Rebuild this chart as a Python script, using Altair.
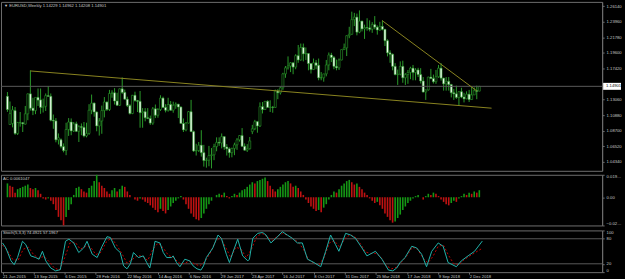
import altair as alt
import pandas as pd

# ---------------- data (EURUSD weekly) ----------------
ohlc_2015 = [
    (1.1350, 1.1410, 1.1132, 1.1165), (1.0955, 1.1278, 1.0955, 1.1108), (1.0970, 1.1215, 1.0915, 1.1160),
    (1.1150, 1.1200, 1.0810, 1.0830), (1.0830, 1.0990, 1.0808, 1.0985), (1.0980, 1.1130, 1.0925, 1.0980),
    (1.0980, 1.0990, 1.0850, 1.0965), (1.0960, 1.1215, 1.0955, 1.1105), (1.1105, 1.1390, 1.1015, 1.1385),
    (1.1385, 1.1714, 1.1150, 1.1183), (1.1185, 1.1330, 1.1087, 1.1150), (1.1150, 1.1330, 1.1100, 1.1335),
    (1.1335, 1.1460, 1.1215, 1.1297), (1.1300, 1.1460, 1.1105, 1.1195), (1.1195, 1.1318, 1.1123, 1.1210),
    (1.1210, 1.1390, 1.1145, 1.1360), (1.1360, 1.1495, 1.1345, 1.1350), (1.1350, 1.1390, 1.1000, 1.1015),
    (1.1015, 1.1095, 1.0895, 1.1005), (1.1005, 1.1045, 1.0705, 1.0740), (1.0740, 1.0830, 1.0675, 1.0770),
    (1.0740, 1.0760, 1.0620, 1.0645), (1.0645, 1.0690, 1.0565, 1.0590), (1.0590, 1.0980, 1.0525, 1.0885),
    (1.0885, 1.1045, 1.0795, 1.0990), (1.0990, 1.1040, 1.0805, 1.0865), (1.0865, 1.0990, 1.0850, 1.0965),
    (1.0965, 1.0995, 1.0850, 1.0860),
]
ohlc_2016 = [
    (1.0860, 1.0945, 1.0710, 1.0925), (1.0925, 1.0970, 1.0805, 1.0915), (1.0915, 1.0990, 1.0775, 1.0795),
    (1.0795, 1.0980, 1.0775, 1.0830), (1.0830, 1.1240, 1.0810, 1.1155), (1.1155, 1.1375, 1.1100, 1.1255),
    (1.1255, 1.1265, 1.1065, 1.1130), (1.1130, 1.1140, 1.0860, 1.0935), (1.0935, 1.1045, 1.0800, 1.1005),
    (1.1005, 1.1220, 1.0825, 1.1150), (1.1150, 1.1340, 1.1055, 1.1270), (1.1270, 1.1280, 1.1145, 1.1165),
    (1.1165, 1.1440, 1.1145, 1.1390), (1.1390, 1.1435, 1.1330, 1.1400), (1.1400, 1.1465, 1.1235, 1.1285),
    (1.1285, 1.1400, 1.1215, 1.1225), (1.1225, 1.1460, 1.1215, 1.1455), (1.1455, 1.1615, 1.1385, 1.1405),
    (1.1405, 1.1445, 1.1305, 1.1310), (1.1310, 1.1345, 1.1200, 1.1220), (1.1220, 1.1240, 1.1095, 1.1110),
    (1.1110, 1.1370, 1.1100, 1.1365), (1.1365, 1.1415, 1.1275, 1.1290), (1.1290, 1.1300, 1.1130, 1.1280),
    (1.1280, 1.1425, 1.0910, 1.1120), (1.1120, 1.1185, 1.0910, 1.1135), (1.1135, 1.1185, 1.1000, 1.1050),
    (1.1050, 1.1185, 1.1030, 1.1040), (1.1040, 1.1080, 1.0950, 1.0975), (1.0975, 1.1200, 1.0950, 1.1175),
    (1.1175, 1.1235, 1.1045, 1.1085), (1.1085, 1.1185, 1.1050, 1.1165), (1.1165, 1.1365, 1.1145, 1.1325),
    (1.1325, 1.1345, 1.1185, 1.1195), (1.1195, 1.1240, 1.1125, 1.1155), (1.1155, 1.1330, 1.1135, 1.1235),
    (1.1235, 1.1285, 1.1150, 1.1155), (1.1155, 1.1275, 1.1120, 1.1225), (1.1225, 1.1265, 1.1175, 1.1240),
    (1.1240, 1.1245, 1.1045, 1.1200), (1.1200, 1.1210, 1.0970, 1.0970), (1.0970, 1.1040, 1.0850, 1.0880),
    (1.0880, 1.0990, 1.0860, 1.0975), (1.0975, 1.1145, 1.0970, 1.1135), (1.1135, 1.1300, 1.0850, 1.0855),
    (1.0855, 1.0870, 1.0570, 1.0585), (1.0585, 1.0685, 1.0520, 1.0590), (1.0590, 1.0710, 1.0570, 1.0665),
    (1.0665, 1.0875, 1.0505, 1.0560), (1.0560, 1.0670, 1.0365, 1.0450), (1.0450, 1.0490, 1.0350, 1.0455),
    (1.0455, 1.0655, 1.0370, 1.0520),
]
ohlc_2017 = [
    (1.0520, 1.0625, 1.0340, 1.0530), (1.0530, 1.0685, 1.0455, 1.0645), (1.0645, 1.0775, 1.0580, 1.0705),
    (1.0705, 1.0775, 1.0655, 1.0695), (1.0695, 1.0830, 1.0620, 1.0785), (1.0785, 1.0790, 1.0600, 1.0640),
    (1.0640, 1.0680, 1.0520, 1.0615), (1.0615, 1.0635, 1.0490, 1.0560), (1.0560, 1.0630, 1.0495, 1.0620),
    (1.0620, 1.0700, 1.0525, 1.0670), (1.0670, 1.0765, 1.0600, 1.0740), (1.0740, 1.0805, 1.0715, 1.0800),
    (1.0800, 1.0905, 1.0640, 1.0650), (1.0650, 1.0690, 1.0590, 1.0595), (1.0595, 1.0680, 1.0570, 1.0615),
    (1.0615, 1.0780, 1.0605, 1.0725), (1.0855, 1.0950, 1.0820, 1.0895), (1.0895, 1.1020, 1.0875, 1.0995),
    (1.0995, 1.1000, 1.0840, 1.0935), (1.0935, 1.1265, 1.0920, 1.1205), (1.1205, 1.1270, 1.1110, 1.1165),
    (1.1165, 1.1285, 1.1160, 1.1280), (1.1280, 1.1295, 1.1195, 1.1195), (1.1195, 1.1295, 1.1130, 1.1200),
    (1.1200, 1.1215, 1.1120, 1.1195), (1.1195, 1.1445, 1.1190, 1.1425), (1.1425, 1.1450, 1.1310, 1.1400),
    (1.1400, 1.1490, 1.1375, 1.1470), (1.1470, 1.1680, 1.1440, 1.1665), (1.1665, 1.1775, 1.1610, 1.1750),
    (1.1750, 1.1910, 1.1725, 1.1775), (1.1775, 1.1830, 1.1690, 1.1820), (1.1820, 1.1825, 1.1660, 1.1760),
    (1.1760, 1.1940, 1.1730, 1.1920), (1.1920, 1.2070, 1.1820, 1.1860), (1.1860, 1.2090, 1.1850, 1.2035),
    (1.2035, 1.2090, 1.1840, 1.1945), (1.1945, 1.2035, 1.1860, 1.1950), (1.1950, 1.1955, 1.1715, 1.1810),
    (1.1810, 1.1815, 1.1670, 1.1725), (1.1725, 1.1880, 1.1720, 1.1820), (1.1820, 1.1860, 1.1730, 1.1785),
    (1.1785, 1.1880, 1.1575, 1.1610), (1.1610, 1.1690, 1.1575, 1.1610), (1.1610, 1.1665, 1.1555, 1.1665),
    (1.1665, 1.1860, 1.1630, 1.1790), (1.1790, 1.1965, 1.1715, 1.1930), (1.1930, 1.1960, 1.1830, 1.1895),
    (1.1895, 1.1915, 1.1730, 1.1770), (1.1770, 1.1865, 1.1715, 1.1750), (1.1750, 1.1880, 1.1720, 1.1860),
    (1.1860, 1.2005, 1.1855, 1.2005), (1.2005, 1.2090, 1.2000, 1.2030),
]
ohlc_2018 = [
    (1.2030, 1.2205, 1.1915, 1.2200), (1.2200, 1.2325, 1.2165, 1.2220), (1.2220, 1.2537, 1.2215, 1.2425),
    (1.2425, 1.2520, 1.2335, 1.2460), (1.2460, 1.2510, 1.2205, 1.2250), (1.2250, 1.2555, 1.2235, 1.2405),
    (1.2405, 1.2410, 1.2260, 1.2295), (1.2295, 1.2355, 1.2155, 1.2315), (1.2315, 1.2445, 1.2270, 1.2310),
    (1.2310, 1.2415, 1.2260, 1.2290), (1.2290, 1.2390, 1.2240, 1.2355), (1.2355, 1.2475, 1.2290, 1.2320),
    (1.2320, 1.2345, 1.2215, 1.2280), (1.2280, 1.2395, 1.2270, 1.2330), (1.2330, 1.2415, 1.2275, 1.2290),
    (1.2290, 1.2290, 1.2055, 1.2130), (1.2130, 1.2150, 1.1910, 1.1960), (1.1960, 1.1995, 1.1820, 1.1940),
    (1.1940, 1.1950, 1.1715, 1.1770), (1.1770, 1.1815, 1.1645, 1.1655), (1.1655, 1.1725, 1.1510, 1.1660),
    (1.1660, 1.1840, 1.1645, 1.1770), (1.1770, 1.1850, 1.1540, 1.1610), (1.1610, 1.1675, 1.1510, 1.1655),
    (1.1655, 1.1720, 1.1525, 1.1685), (1.1685, 1.1765, 1.1590, 1.1745), (1.1745, 1.1790, 1.1575, 1.1685),
    (1.1685, 1.1745, 1.1575, 1.1720), (1.1720, 1.1750, 1.1620, 1.1655), (1.1655, 1.1745, 1.1530, 1.1565),
    (1.1565, 1.1620, 1.1405, 1.1410), (1.1410, 1.1445, 1.1300, 1.1440), (1.1440, 1.1625, 1.1430, 1.1620),
    (1.1620, 1.1735, 1.1590, 1.1600), (1.1600, 1.1655, 1.1530, 1.1555), (1.1555, 1.1720, 1.1525, 1.1625),
    (1.1625, 1.1790, 1.1610, 1.1745), (1.1745, 1.1815, 1.1570, 1.1605), (1.1605, 1.1610, 1.1430, 1.1525),
    (1.1525, 1.1620, 1.1430, 1.1560), (1.1560, 1.1620, 1.1430, 1.1515), (1.1515, 1.1525, 1.1335, 1.1400),
    (1.1400, 1.1455, 1.1300, 1.1385), (1.1385, 1.1500, 1.1315, 1.1335), (1.1335, 1.1420, 1.1215, 1.1415),
    (1.1415, 1.1470, 1.1325, 1.1340), (1.1340, 1.1400, 1.1265, 1.1315), (1.1315, 1.1420, 1.1310, 1.1380),
    (1.1380, 1.1440, 1.1270, 1.1305), (1.1305, 1.1485, 1.1300, 1.1370), (1.1370, 1.1475, 1.1370, 1.1430),
    (1.1430, 1.1500, 1.1310, 1.1420),
]
ohlc_2019 = [(1.14229, 1.14962, 1.14208, 1.14901)]

date_labels = ["21 Jun 2015", "13 Sep 2015", "6 Dec 2015", "28 Feb 2016", "22 May 2016",
               "14 Aug 2016", "6 Nov 2016", "29 Jan 2017", "23 Apr 2017", "16 Jul 2017",
               "8 Oct 2017", "31 Dec 2017", "25 Mar 2018", "17 Jun 2018", "9 Sep 2018", "2 Dec 2018"]
date_label_bars = [0, 12, 24, 36, 48, 60, 72, 84, 96, 108, 120, 132, 144, 156, 168, 180]

price_ticks = [1.26140, 1.23960, 1.21780, 1.19600, 1.17420,
               1.13060, 1.10880, 1.08700, 1.06520, 1.04340]
last_price = 1.14901

# Accelerator oscillator, in units of 0.001, one per bar
ac_values = [
    12, 10, 9, 4, 7, 8, 9, 10, 11, 8,
    7, 8, 6, 3, -1, -2, -1, -3, -6, -11,
    -17, -20, -24.4, -17, -11, -6, 2, 8, 9, 7,
    5, 4, 8, 10, 14, 19.4, 13, 10, 8, 5,
    3, 6, 8, 5, 7, 10, 9, 5, 2, 0,
    -2, -3, -1, -2, -4, -5, -7, -9, -11, -13,
    -10, -12, -14, -11, -8, -5, -3, -1, 1, -2,
    -6, -10, -14, -17, -19, -20, -18, -14, -10, -6,
    -3, 0, 2, 3, 2, 4, 1, -1, 1, 3,
    2, 4, 6, 7, 9, 11, 13, 12, 14, 15,
    16, 17, 14, 10, 7, 5, 7, 9, 11, 13,
    14, 12, 9, 10, 8, 5, 2, -2, -5, -8,
    -10, -12, -11, -13, -9, -6, -2, 2, 5, 4,
    7, 10, 12, 14, 15, 13, 11, 12, 9, 7,
    4, 2, -1, -3, -5, -4, -7, -10, -14, -17,
    -20, -22, -21, -18, -15, -11, -8, -5, -3, -1,
    1, 2, 0, -2, 1, 3, 2, 4, 3, 1,
    -2, -4, -6, -7, -5, -3, -4, -1, 1, 3,
    2, 4, 3, 5, 4, 6.1,
]

# Stochastic(5,3,3) vertices: bar position, value
stoch_main_bar = [0, 1.3, 3.3, 4.5, 5.8, 7.7, 9, 10.9, 12.8, 14.1, 15.4, 16.7, 18.6, 20.5, 22.3, 23.3,
                  24.3, 25.6, 27.5, 29.4, 31.3, 32.6, 34.6, 36.5, 38.4, 40.3, 41.6, 43.5, 45.4, 46.7,
                  48, 49.3, 50.5, 52.4, 54.3, 55.6, 56.8, 57.8, 58.8, 60.7, 62, 63.3, 65.2, 65.8,
                  67.1, 68.4, 70.3, 72.2, 73.5, 75, 76.5, 77.5, 78.6, 81.1, 83.1, 84.4, 86.3, 87.5,
                  88.8, 90.7, 92.6, 94.6, 95.2, 96.5, 98.4, 100.3, 101.6, 103.5, 105.4, 107.9, 109.8,
                  111.8, 113.7, 115.6, 117.6, 120.1, 122.7, 124.6, 126.5, 128.4, 129.7, 132.3, 134.2,
                  136.1, 138.6, 140.5, 143.8, 146.3, 148.8, 150.5, 152, 153.3, 155.2, 157.8, 159.7,
                  161.6, 163.5, 165.5, 168, 169.9, 171.8, 175, 176.9, 179.5, 182, 185]
stoch_main_val = [70, 58, 27, 18, 35, 74, 66, 39, 35, 31, 50, 27, 10, 3, 6, 40,
                  74, 79, 70, 47, 58, 74, 43, 35, 62, 85, 83, 58, 47, 15,
                  8, 20, 47, 35, 39, 23, 10, 40, 74, 70, 47, 35, 35, 39,
                  23, 13, 31, 27, 15, 8, 5, 15, 35, 58, 89, 81, 43, 23,
                  47, 79, 39, 27, 31, 81, 93, 95, 89, 70, 81, 97, 89,
                  81, 70, 70, 31, 23, 13, 50, 89, 66, 50, 93, 89,
                  81, 58, 39, 50, 31, 5, 3, 10, 23, 35, 62, 58,
                  43, 13, 50, 70, 62, 23, 13, 27, 39, 50, 74.49]
stoch_sig_bar = [0, 2, 4, 6, 8, 10, 12, 14, 16, 18, 20, 22, 24, 26, 28, 30, 32, 34, 36, 38, 40, 42, 44,
                 46, 48, 50, 52, 54, 56, 58, 60, 62, 64, 66, 68, 70, 72, 74, 76, 78, 80, 82, 84, 86,
                 88, 90, 92, 94, 96, 98, 100, 102, 104, 106, 108, 110, 112, 114, 116, 118, 120, 122,
                 124, 126, 128, 130, 132, 134, 136, 138, 140, 142, 144, 146, 148, 150, 152, 154, 156,
                 158, 160, 162, 164, 166, 168, 170, 172, 174, 176, 178, 180, 182, 185]
stoch_sig_val = [65, 50, 30, 28, 55, 60, 42, 33, 38, 25, 10, 5, 35, 70, 72, 55, 62, 60, 42, 48, 72, 82, 65,
                 45, 22, 30, 40, 38, 28, 55, 70, 58, 40, 35, 22, 20, 27, 20, 15, 25, 45, 72, 84, 60,
                 35, 60, 55, 35, 55, 85, 93, 85, 76, 86, 93, 88, 80, 72, 55, 30, 22, 17,
                 35, 70, 75, 60, 80, 90, 84, 68, 48, 45, 45, 35, 15, 8, 12, 25, 40,
                 60, 55, 35, 22, 38, 62, 65, 40, 20, 18, 30, 38, 46, 57.2]

# hand-drawn trend lines: bar position and price of both ends
trend_long_bar = [9, 189.8]
trend_long_price = [1.1706, 1.1184]
trend_down_bar = [146.9, 184]
trend_down_price = [1.2412, 1.1427]

# ---------------- styling ----------------
BG = "#000000"
FG = "#c8c8c8"
GRID = "#6e6e6e"
WICK = "#2a9a2a"
AC_UP = "#159815"
AC_DN = "#c01212"
STOCH_MAIN = "#20b2aa"
STOCH_SIG = "#c00000"
TREND = "#8a8420"
FONT = "Liberation Sans"
FS = 4.2

W = 605
xs = alt.Scale(domain=[-0.575, 231.2], nice=False, zero=False)

rows = ohlc_2015 + ohlc_2016 + ohlc_2017 + ohlc_2018 + ohlc_2019
df = pd.DataFrame(rows, columns=["o", "h", "l", "c"])
df["i"] = list(range(len(df)))
df["fill"] = ["#f4fff4" if c < o else "#000000" for o, c in zip(df["o"], df["c"])]

# ---------------- price panel ----------------
ys = alt.Scale(domain=[1.0306, 1.26742], nice=False, zero=False)
price_axis = alt.Axis(orient="right", values=price_ticks, format=".5f", grid=False,
                      tickSize=2, tickColor=GRID, domainColor=GRID, labelPadding=2, title=None)
X_MAIN = alt.X("i:Q", scale=xs, axis=None, title=None)

wick = alt.Chart(df).mark_rule(color=WICK, strokeWidth=1).encode(
    x=X_MAIN, y=alt.Y("l:Q", scale=ys, axis=price_axis), y2="h:Q")
body = alt.Chart(df).mark_bar(width=2, stroke=WICK, strokeWidth=0.6).encode(
    x=X_MAIN, y=alt.Y("o:Q", scale=ys, axis=price_axis), y2="c:Q",
    fill=alt.Fill("fill:N", scale=None))

t1 = pd.DataFrame({"i": trend_long_bar, "p": trend_long_price})
t2 = pd.DataFrame({"i": trend_down_bar, "p": trend_down_price})
trend1 = alt.Chart(t1).mark_line(color=TREND, strokeWidth=1).encode(
    x=X_MAIN, y=alt.Y("p:Q", scale=ys, axis=price_axis))
trend2 = alt.Chart(t2).mark_line(color=TREND, strokeWidth=1).encode(
    x=X_MAIN, y=alt.Y("p:Q", scale=ys, axis=price_axis))

price_df = pd.DataFrame({"p": [last_price], "t": ["%.5f" % last_price]})
price_line = alt.Chart(price_df).mark_rule(color="#5a5a5a", strokeWidth=1).encode(
    y=alt.Y("p:Q", scale=ys, axis=price_axis), x=alt.value(0), x2=alt.value(W))
price_box = alt.Chart(price_df).mark_rule(color="#ffffff", strokeWidth=7).encode(
    y=alt.Y("p:Q", scale=ys, axis=price_axis), x=alt.value(W + 1), x2=alt.value(624))
price_txt = alt.Chart(price_df).mark_text(align="left", baseline="middle", color="#000000",
                                          font=FONT, fontSize=FS, dx=3).encode(
    y=alt.Y("p:Q", scale=ys, axis=price_axis), x=alt.value(W + 1), text="t:N")

title_df = pd.DataFrame({"t": ["\u25bc  EURUSD,Weekly  1.14229 1.14962 1.14208 1.14901"]})
title_txt = alt.Chart(title_df).mark_text(
    align="left", baseline="middle", color=FG, font=FONT, fontSize=FS).encode(
    x=alt.value(3), y=alt.value(4), text="t:N")

main = alt.layer(wick, body, price_line, trend1, trend2, title_txt, price_box, price_txt).properties(
    width=W, height=170)

# ---------------- AC panel ----------------
ac_df = pd.DataFrame({"i": list(range(len(ac_values))), "ac": [v / 1000.0 for v in ac_values]})
ac_df["zero"] = 0.0
ac_df["col"] = [AC_UP if (k == 0 or ac_values[k] > ac_values[k - 1]) else AC_DN
                for k in range(len(ac_values))]
ac_top, ac_bot = 0.0194556, -0.0244176
ac_scale = alt.Scale(domain=[ac_bot, ac_top], nice=False, zero=False)
ac_axis = alt.Axis(orient="right", values=[ac_top, 0, ac_bot], grid=False, tickSize=2,
                   tickColor=GRID, domainColor=GRID, labelPadding=2, labelFlush=True,
                   labelLimit=16, title=None,
                   labelExpr="datum.value == 0 ? '0.00' : format(datum.value, '.7f')")
ac_bars = alt.Chart(ac_df).mark_bar(width=1.6).encode(
    x=X_MAIN,
    y=alt.Y("ac:Q", scale=ac_scale, axis=ac_axis),
    y2="zero:Q",
    color=alt.Color("col:N", scale=None),
)
ac_txt = alt.Chart(pd.DataFrame({"t": ["AC 0.0061047"]})).mark_text(
    align="left", baseline="middle", color=FG, font=FONT, fontSize=FS).encode(
    x=alt.value(2), y=alt.value(4), text="t:N")
ac_panel = alt.layer(ac_bars, ac_txt).properties(width=W, height=51)

# ---------------- Stochastic panel ----------------
label_expr = "[" + ",".join("'%s'" % s for s in date_labels) + "][round(datum.value / 12)]"
st_scale = alt.Scale(domain=[0, 100], nice=False)
st_axis = alt.Axis(orient="right", values=[100, 80, 20, 0], grid=False, tickSize=2,
                   tickColor=GRID, domainColor=GRID, labelPadding=2, labelFlush=True, title=None)
x_axis = alt.Axis(values=date_label_bars, labelExpr=label_expr, labelAlign="left", grid=False,
                  tickSize=2, tickColor=GRID, domain=False, labelPadding=0, labelFlush=False,
                  labelOverlap=False, title=None)
X_ST = alt.X("i:Q", scale=xs, axis=x_axis)
lev_df = pd.DataFrame({"v": [80, 20]})
levels = alt.Chart(lev_df).mark_rule(color="#5a5a5a", strokeWidth=1).encode(
    y=alt.Y("v:Q", scale=st_scale, axis=st_axis),
    x=alt.value(0), x2=alt.value(W))
sm_df = pd.DataFrame({"i": stoch_main_bar, "v": stoch_main_val})
sg_df = pd.DataFrame({"i": stoch_sig_bar, "v": stoch_sig_val})
st_sig = alt.Chart(sg_df).mark_line(color=STOCH_SIG, strokeWidth=1, strokeDash=[2, 2]).encode(
    x=X_ST, y=alt.Y("v:Q", scale=st_scale, axis=st_axis))
st_main = alt.Chart(sm_df).mark_line(color=STOCH_MAIN, strokeWidth=1).encode(
    x=X_ST, y=alt.Y("v:Q", scale=st_scale, axis=st_axis))
st_txt = alt.Chart(pd.DataFrame({"t": ["Stoch(5,3,3) 74.4921 57.1967"]})).mark_text(
    align="left", baseline="middle", color=FG, font=FONT, fontSize=FS).encode(
    x=alt.value(2), y=alt.value(3), text="t:N")
st_panel = alt.layer(levels, st_sig, st_main, st_txt).properties(width=W, height=42)

chart = alt.vconcat(main, ac_panel, st_panel, spacing=2).properties(
    background=BG, padding=0
).configure_view(stroke=GRID, strokeWidth=1).configure_axis(
    labelFont=FONT, labelFontSize=FS, labelColor=FG, titleColor=FG
)

chart.save("out.html", embed_options={"renderer": "svg", "actions": False})
